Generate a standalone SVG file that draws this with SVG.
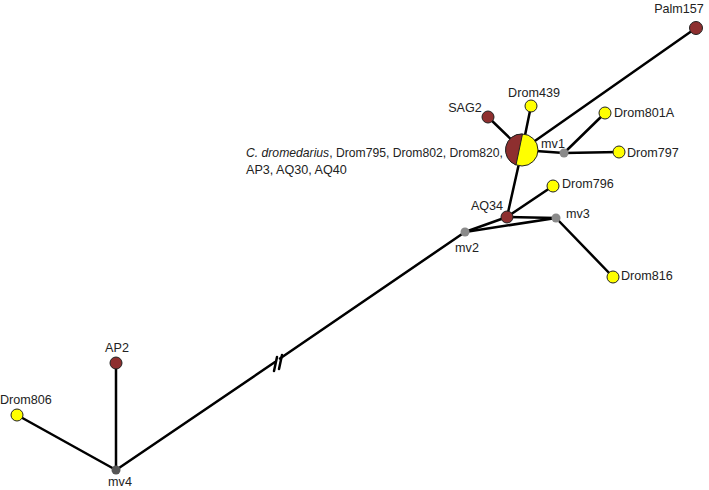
<svg xmlns="http://www.w3.org/2000/svg" width="709" height="490" viewBox="0 0 709 490">
<style>
.e{stroke:#000;stroke-width:2.5;fill:none;stroke-linecap:round}
.y{fill:#ffff00;stroke:#222;stroke-width:1}
.b{fill:#8e2f2f;stroke:#222;stroke-width:1}
.g{fill:#8a8a8a;stroke:none}
.t{font-family:"Liberation Sans",Arial,sans-serif;font-size:12.6px;fill:#222}
</style>
<rect width="709" height="490" fill="#fff"/>
<g id="connectors">
<line class="e" x1="522" y1="150" x2="488" y2="117"/>
<line class="e" x1="522" y1="150" x2="531" y2="106"/>
<line class="e" x1="522" y1="150" x2="696" y2="28"/>
<line class="e" x1="522" y1="150" x2="564" y2="153"/>
<line class="e" x1="522" y1="150" x2="507" y2="217"/>
<line class="e" x1="564" y1="153" x2="605" y2="113"/>
<line class="e" x1="564" y1="153" x2="619" y2="152"/>
<line class="e" x1="507" y1="217" x2="553" y2="186"/>
<line class="e" x1="507" y1="217" x2="465" y2="232"/>
<line class="e" x1="507" y1="217" x2="556" y2="218"/>
<line class="e" x1="465" y1="232" x2="556" y2="218"/>
<line class="e" x1="556" y1="218" x2="613" y2="277"/>
<line class="e" x1="465" y1="232" x2="280" y2="358.5"/>
<line class="e" x1="275" y1="362" x2="116" y2="470"/>
<line class="e" x1="274" y1="371" x2="277" y2="357"/>
<line class="e" x1="279" y1="369" x2="282" y2="355"/>
<line class="e" x1="116" y1="470" x2="116" y2="363"/>
<line class="e" x1="116" y1="470" x2="17" y2="415"/>
</g>
<g id="pie">
<circle cx="522" cy="150" r="16" fill="#ffff00" stroke="#222" stroke-width="1"/>
<path d="M522.5,134 A16,16 0 0 0 516,165 Z" fill="#8e2f2f" stroke="#222" stroke-width="1"/>
<text class="t" x="246" y="157" textLength="257" lengthAdjust="spacingAndGlyphs"><tspan font-style="italic">C. dromedarius</tspan>, Drom795, Drom802, Drom820,</text>
<text class="t" x="246" y="174">AP3, AQ30, AQ40</text>
</g>
<g id="SAG2"><circle class="b" cx="488" cy="117" r="6"/><text class="t" x="465" y="112" text-anchor="middle">SAG2</text></g>
<g id="Drom439"><circle class="y" cx="531" cy="106" r="6"/><text class="t" x="534" y="97" text-anchor="middle">Drom439</text></g>
<g id="Palm157"><circle class="b" cx="696" cy="28" r="6.5"/><text class="t" x="679" y="13" text-anchor="middle">Palm157</text></g>
<g id="mv1"><circle class="g" cx="564" cy="153" r="4.5"/><text class="t" x="553" y="148" text-anchor="middle">mv1</text></g>
<g id="Drom801A"><circle class="y" cx="605" cy="113" r="6"/><text class="t" x="614" y="117">Drom801A</text></g>
<g id="Drom797"><circle class="y" cx="619" cy="152" r="6"/><text class="t" x="627" y="157">Drom797</text></g>
<g id="Drom796"><circle class="y" cx="553" cy="186" r="6"/><text class="t" x="562" y="188">Drom796</text></g>
<g id="AQ34"><circle class="b" cx="507" cy="217" r="6"/><text class="t" x="487" y="210" text-anchor="middle">AQ34</text></g>
<g id="mv3"><circle class="g" cx="556" cy="218" r="4.5"/><text class="t" x="566" y="218">mv3</text></g>
<g id="mv2"><circle class="g" cx="465" cy="232" r="4.5"/><text class="t" x="467" y="252" text-anchor="middle">mv2</text></g>
<g id="Drom816"><circle class="y" cx="613" cy="277" r="6"/><text class="t" x="621" y="280">Drom816</text></g>
<g id="AP2"><circle class="b" cx="116" cy="363" r="6"/><text class="t" x="117" y="352" text-anchor="middle">AP2</text></g>
<g id="Drom806"><circle class="y" cx="17" cy="415" r="6"/><text class="t" x="0" y="404">Drom806</text></g>
<g id="mv4"><circle cx="116" cy="470" r="4.5" fill="#555"/><text class="t" x="120" y="486" text-anchor="middle">mv4</text></g>
</svg>
